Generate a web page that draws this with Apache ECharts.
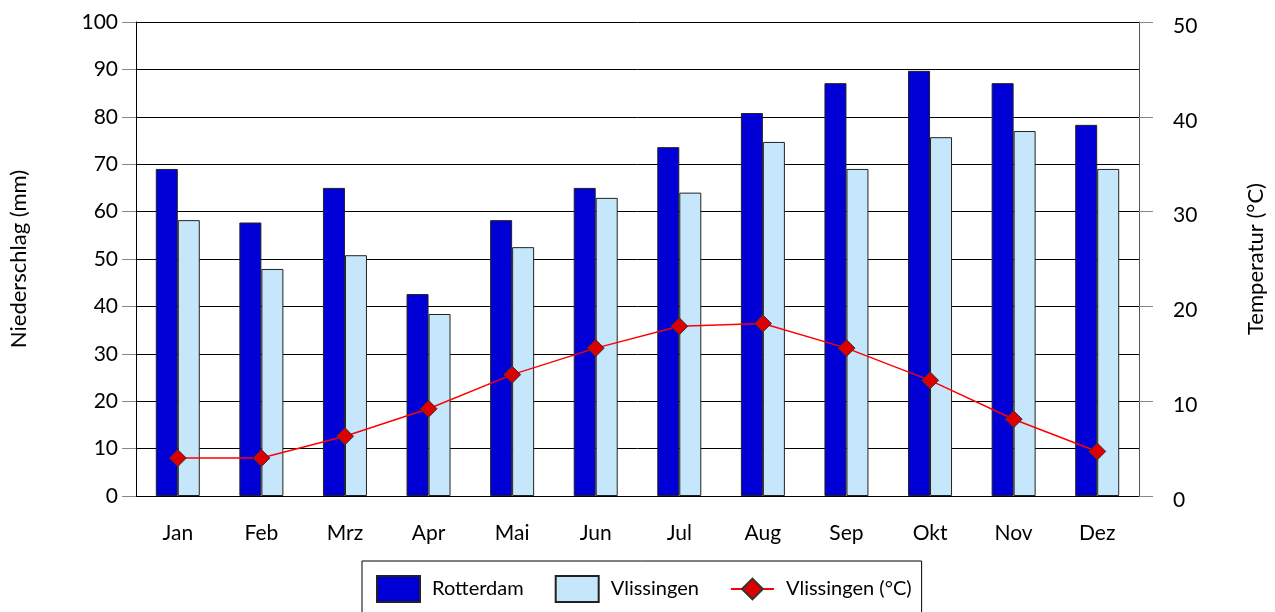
<!DOCTYPE html>
<html><head><meta charset="utf-8">
<script src="https://cdn.jsdelivr.net/npm/echarts@6/dist/echarts.min.js"></script>
<style>html,body{margin:0;padding:0;background:#fff}#c{width:1275px;height:612px}</style>
</head><body><div id="c"></div>
<script>
const months = ['Jan','Feb','Mrz','Apr','Mai','Jun','Jul','Aug','Sep','Okt','Nov','Dez'];
const rotterdam = [69.0, 57.7, 65.0, 42.6, 58.2, 65.0, 73.6, 80.8, 87.1, 89.7, 87.1, 78.3];
const vlissingen = [58.2, 47.9, 50.8, 38.4, 52.5, 62.9, 64.0, 74.7, 69.0, 75.7, 77.0, 69.0];
const vlissingenTemp = [4.0, 4.0, 6.3, 9.2, 12.8, 15.6, 17.9, 18.2, 15.6, 12.2, 8.1, 4.7];
const leftTicks = {min:0, max:100, interval:10};
const rightTicks = {min:0, max:50, interval:10};

const FONT = 'Lato';
const chart = echarts.init(document.getElementById('c'));
chart.setOption({
  animation:false,
  textStyle:{fontFamily:FONT, color:'#000'},
  grid:{left:136, right:135, top:22, bottom:116},
  legend:{
    left:362, top:561,
    padding:[14,10,14,14],
    borderColor:'#000', borderWidth:1,
    itemWidth:43, itemHeight:26, itemGap:31,
    textStyle:{fontFamily:FONT, fontSize:20, color:'#000', padding:[0,0,0,7]},
    data:[{name:'Rotterdam', icon:'rect'},{name:'Vlissingen', icon:'rect'},{name:'Vlissingen (°C)'}]
  },
  xAxis:{
    type:'category', data:months,
    axisLine:{lineStyle:{color:'#000', width:1}},
    axisTick:{alignWithLabel:true, length:12, lineStyle:{color:'#000'}},
    axisLabel:{fontSize:21, color:'#000', margin:27, fontFamily:FONT}
  },
  yAxis:[{
    type:'value', min:leftTicks.min, max:leftTicks.max, interval:leftTicks.interval,
    name:'Niederschlag (mm)', nameLocation:'middle', nameGap:106, nameRotate:90,
    nameTextStyle:{fontSize:22, color:'#000', fontFamily:FONT},
    axisLine:{show:true, lineStyle:{color:'#000'}},
    axisTick:{show:true, length:14, lineStyle:{color:'#888'}},
    axisLabel:{fontSize:21, color:'#000', margin:18, fontFamily:FONT},
    splitLine:{show:true, lineStyle:{color:'#000', width:1}}
  },{
    type:'value', min:rightTicks.min, max:rightTicks.max, interval:rightTicks.interval,
    name:'Temperatur (°C)', nameLocation:'middle', nameGap:106, nameRotate:90,
    nameTextStyle:{fontSize:22, color:'#000', fontFamily:FONT},
    axisLine:{show:true, lineStyle:{color:'#555'}},
    axisTick:{show:true, length:14, lineStyle:{color:'#888'}},
    axisLabel:{
      margin:20, formatter:'{a|{value}}',
      rich:{a:{fontSize:21, color:'#000', fontFamily:FONT, padding:[8,0,0,14]}}
    },
    splitLine:{show:false}
  }],
  series:[{
    name:'Rotterdam', type:'bar', data:rotterdam, yAxisIndex:0,
    barWidth:22, barGap:'0%',
    itemStyle:{color:'#0000d6', borderColor:'#222', borderWidth:1}
  },{
    name:'Vlissingen', type:'bar', data:vlissingen, yAxisIndex:0,
    barWidth:22, barGap:'0%',
    itemStyle:{color:'#c6e6fb', borderColor:'#222', borderWidth:1}
  },{
    name:'Vlissingen (°C)', type:'line', data:vlissingenTemp, yAxisIndex:1,
    symbol:'diamond', symbolSize:17,
    lineStyle:{color:'#ff0000', width:1.5},
    itemStyle:{color:'#dd0000', borderColor:'#333', borderWidth:1}
  }]
});
</script></body></html>
